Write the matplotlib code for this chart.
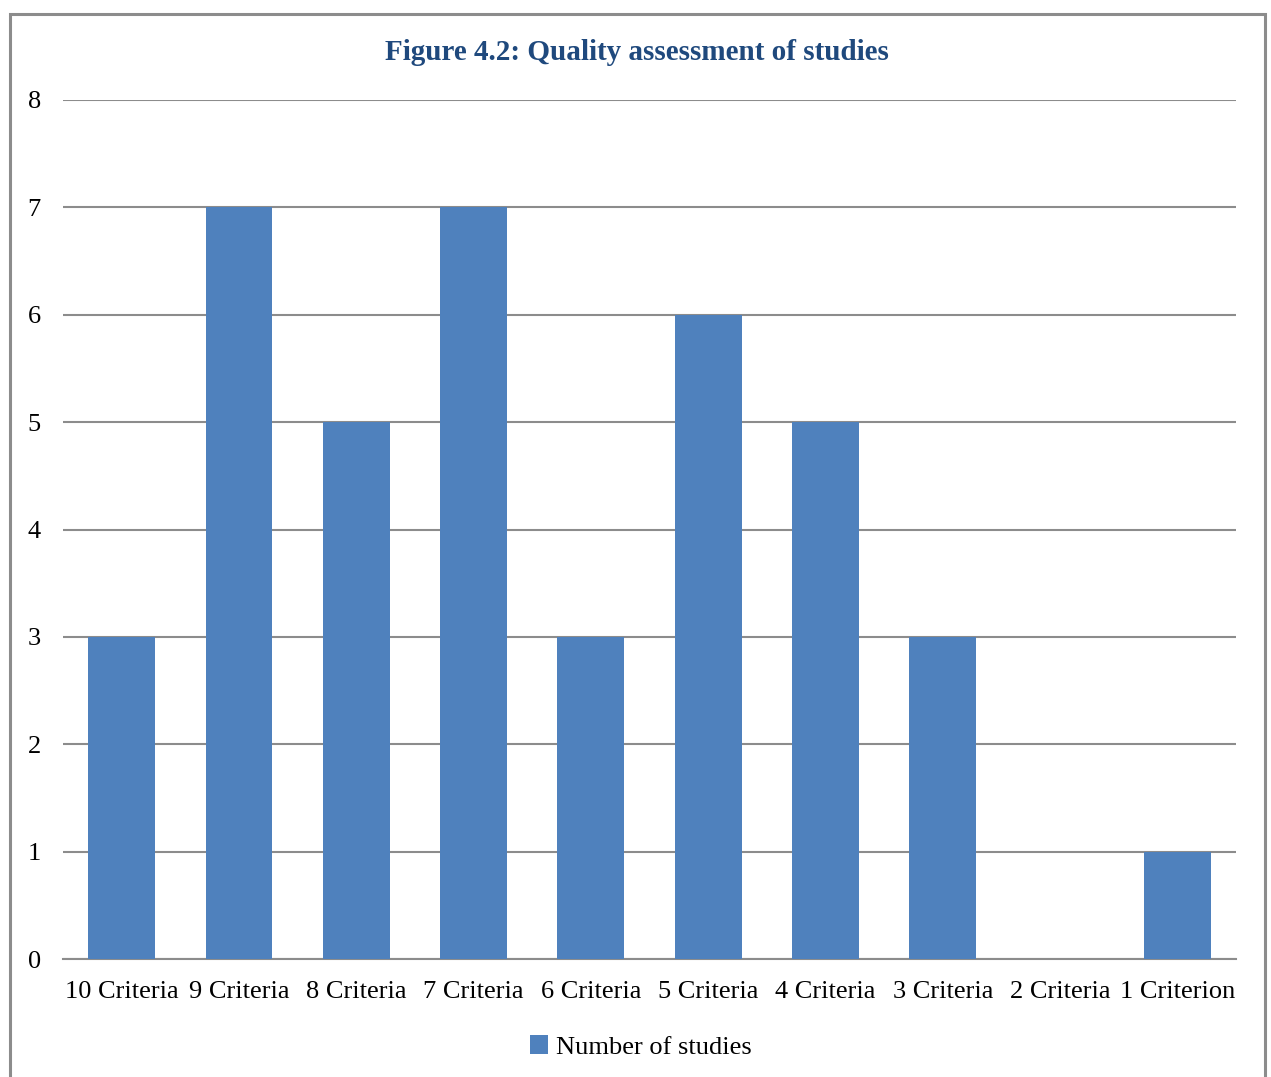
import matplotlib
matplotlib.use("Agg")
import matplotlib.pyplot as plt
from matplotlib.patches import Rectangle

categories = ["10 Criteria", "9 Criteria", "8 Criteria", "7 Criteria", "6 Criteria",
              "5 Criteria", "4 Criteria", "3 Criteria", "2 Criteria", "1 Criterion"]
num_studies = [3, 7, 5, 7, 3, 6, 5, 3, 0, 1]
y_ticks = [0, 1, 2, 3, 4, 5, 6, 7, 8]

plt.rcParams["font.family"] = ["Liberation Serif", "DejaVu Serif"]

W, H = 1271, 1077
fig = plt.figure(figsize=(W / 100, H / 100), dpi=100)

# outer chart border
fig.patches.append(Rectangle((10 / W, -0.05), (1265 - 10) / W, 1.05 - 14 / H + 0.0,
                             transform=fig.transFigure, fill=False,
                             edgecolor="#8c8c8c", linewidth=2.2, zorder=0))

ax = fig.add_axes([63 / W, 1 - 959 / H, (1236 - 63) / W, (959 - 100) / H])
x = range(len(categories))
bars = ax.bar(x, num_studies, width=0.57, color="#4F81BD", zorder=3,
              label="Number of studies")
ax.set_xlim(-0.5, len(categories) - 0.5)
ax.set_ylim(0, 8)
ax.set_yticks(y_ticks)
ax.set_xticks(list(x))
ax.set_xticklabels(categories)
ax.yaxis.grid(True, color="#8c8c8c", linewidth=1.5, zorder=0)
for s in ["top", "right", "left"]:
    ax.spines[s].set_visible(False)
ax.spines["bottom"].set_color("#8c8c8c")
ax.spines["bottom"].set_linewidth(1.5)
ax.tick_params(axis="both", length=0, labelsize=19, colors="black")
ax.tick_params(axis="y", pad=16)
ax.tick_params(axis="x", pad=16)

fig.text(637 / W, 1 - 53 / H, "Figure 4.2: Quality assessment of studies",
         ha="center", va="center", fontsize=21, fontweight="bold", color="#1F497D")

leg = fig.legend(handles=[bars], labels=["Number of studies"], loc="center",
                 bbox_to_anchor=(641 / W, 1 - 1047 / H), frameon=False,
                 fontsize=19, handlelength=0.7, handleheight=0.7,
                 handletextpad=0.3)

fig.savefig("out.png", dpi=100)
